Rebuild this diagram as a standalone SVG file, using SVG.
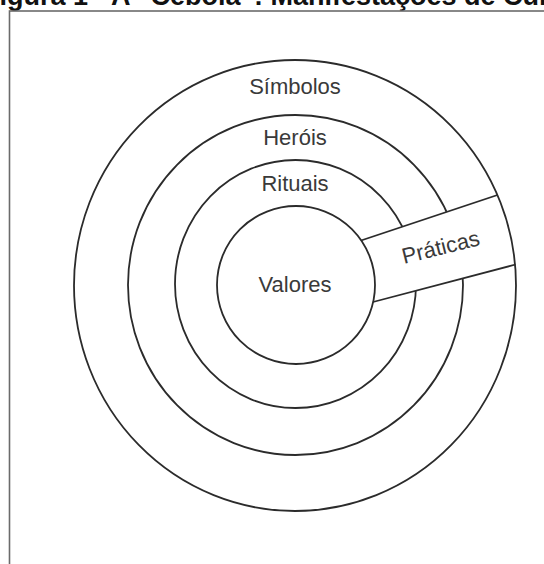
<svg xmlns="http://www.w3.org/2000/svg" width="544" height="564" viewBox="0 0 544 564">
  <style>
    .ring { fill: none; stroke: #2b2b2b; stroke-width: 1.8; }
    .lbl { font-family: "Liberation Sans", Arial, sans-serif; font-size: 22px; fill: #3a3a3a; text-anchor: middle; }
    .title { font-family: "Liberation Sans", Arial, sans-serif; font-size: 27px; font-weight: bold; fill: #111; }
    .frame { fill: none; stroke: #6b6b6b; stroke-width: 1.6; }
  </style>
  <rect x="0" y="0" width="544" height="564" fill="#ffffff"/>
  <text class="title" x="-17" y="5">Figura 1 - A “Cebola”: Manifestações de Cultura</text>
  <rect class="frame" x="9.5" y="11" width="600" height="600"/>

  <g id="herois">
    <ellipse class="ring" cx="295.5" cy="285" rx="167.5" ry="170"/>
    <text class="lbl" x="295" y="145">Heróis</text>
  </g>
  <g id="rituais">
    <ellipse class="ring" cx="295.5" cy="284" rx="120.5" ry="124"/>
    <text class="lbl" x="295" y="191">Rituais</text>
  </g>
  <g id="praticas">
    <polygon points="360,241 497,195 517,265 373,302" fill="#ffffff"/>
  </g>
  <g id="simbolos">
    <ellipse class="ring" cx="295" cy="285.5" rx="221" ry="225.5"/>
    <text class="lbl" x="295" y="94">Símbolos</text>
  </g>
  <g id="valores">
    <ellipse class="ring" cx="296" cy="285" rx="79" ry="79"/>
    <text class="lbl" x="295" y="292">Valores</text>
  </g>
  <g id="connectors">
    <line class="ring" x1="361" y1="240.5" x2="497.5" y2="195"/>
    <line class="ring" x1="373" y1="302" x2="515.5" y2="264.5"/>
  </g>
  <g id="praticas-label">
    <text class="lbl" x="442.5" y="254.5" transform="rotate(-14 442.5 254.5)">Práticas</text>
  </g>
</svg>
